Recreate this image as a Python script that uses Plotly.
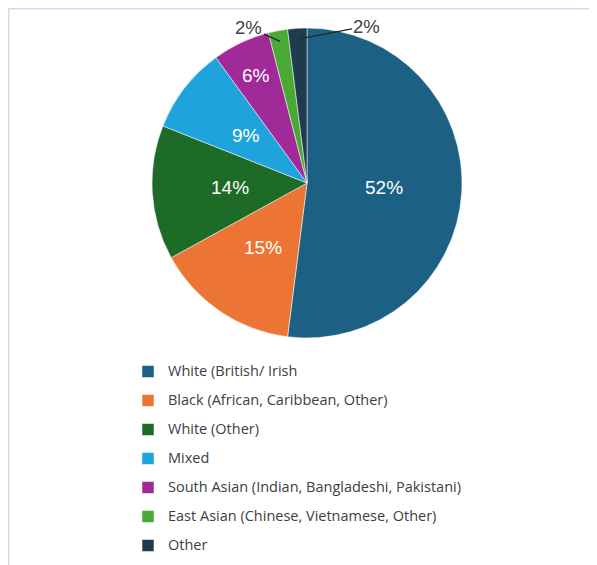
import numpy as np
import plotly.graph_objects as go

# ---------------- data ----------------
groups = [
    "White (British/ Irish",
    "Black (African, Caribbean, Other)",
    "White (Other)",
    "Mixed",
    "South Asian (Indian, Bangladeshi, Pakistani)",
    "East Asian (Chinese, Vietnamese, Other)",
    "Other",
]
shares = [52, 15, 14, 9, 6, 2, 2]
colours = ["#1c6084", "#ec7535", "#1d6b26", "#1fa3dc", "#a02b98", "#4aa934", "#203b4e"]

# page is 597x565 but the html body adds an 8px margin
OFF = 8
W, H = 597 - OFF, 565 - OFF
CX, CY, R = 307 - OFF, 183 - OFF, 155     # pie centre / radius in figure px
FONT = "Liberation Sans"
TXT = "#404040"


def px(x, y):
    return x / W, 1 - y / H


fig = go.Figure()

fig.add_trace(go.Pie(
    labels=[f'<span style="font-size:14.5px;font-family:Open Sans;baseline-shift:3px">{g}</span>'
            for g in groups],
    values=shares,
    sort=False,
    direction="clockwise",
    rotation=0,
    marker=dict(colors=colours, line=dict(color="white", width=0.5)),
    textinfo="none",
    hoverinfo="label+percent",
    domain=dict(x=[(CX - R) / W, (CX + R) / W], y=[1 - (CY + R) / H, 1 - (CY - R) / H]),
))

# data labels: inside for big slices, outside with leader line for tiny ones
total = sum(shares)
cum = np.cumsum([0] + shares)
outside = {5: (-31, -14), 6: (69, -13)}
for i, s in enumerate(shares):
    mid = (cum[i] + s / 2) / total * 2 * np.pi
    lab = f"{s / total:.0%}"
    if i in outside:
        ax, ay = outside[i]
        x, y = px(CX + 0.93 * R * np.sin(mid), CY - 0.93 * R * np.cos(mid))
        fig.add_annotation(
            x=x, y=y, xref="paper", yref="paper", text=lab,
            showarrow=True, arrowhead=0, arrowwidth=1.3, arrowcolor="#262626",
            ax=ax, ay=ay, standoff=0,
            font=dict(size=18.5, color=TXT, family=FONT),
        )
    else:
        fr = 0.5 if s >= 8 else 0.77
        x, y = px(CX + fr * R * np.sin(mid), CY - fr * R * np.cos(mid))
        fig.add_annotation(
            x=x, y=y, xref="paper", yref="paper", text=lab, showarrow=False,
            xanchor="center", yanchor="middle",
            font=dict(size=19, color="white", family=FONT),
        )

# light frame lines (top / left)
fig.add_shape(type="line", xref="paper", yref="paper",
              x0=0.5 / W, x1=1, y0=1 - 0.5 / H, y1=1 - 0.5 / H,
              line=dict(color="#c9def2", width=2))
fig.add_shape(type="line", xref="paper", yref="paper",
              x0=0.5 / W, x1=0.5 / W, y0=0, y1=1 - 0.5 / H,
              line=dict(color="#c9def2", width=2))

fig.update_layout(
    width=W, height=H,
    margin=dict(l=0, r=0, t=0, b=0),
    paper_bgcolor="white",
    plot_bgcolor="white",
    showlegend=True,
    legend=dict(
        x=(128 - OFF) / W, xanchor="left",
        y=1 - (352 - OFF) / H, yanchor="top",
        orientation="v",
        font=dict(size=20, color=TXT, family=FONT),
        bgcolor="rgba(0,0,0,0)",
    ),
)

fig.write_html("out.html")
